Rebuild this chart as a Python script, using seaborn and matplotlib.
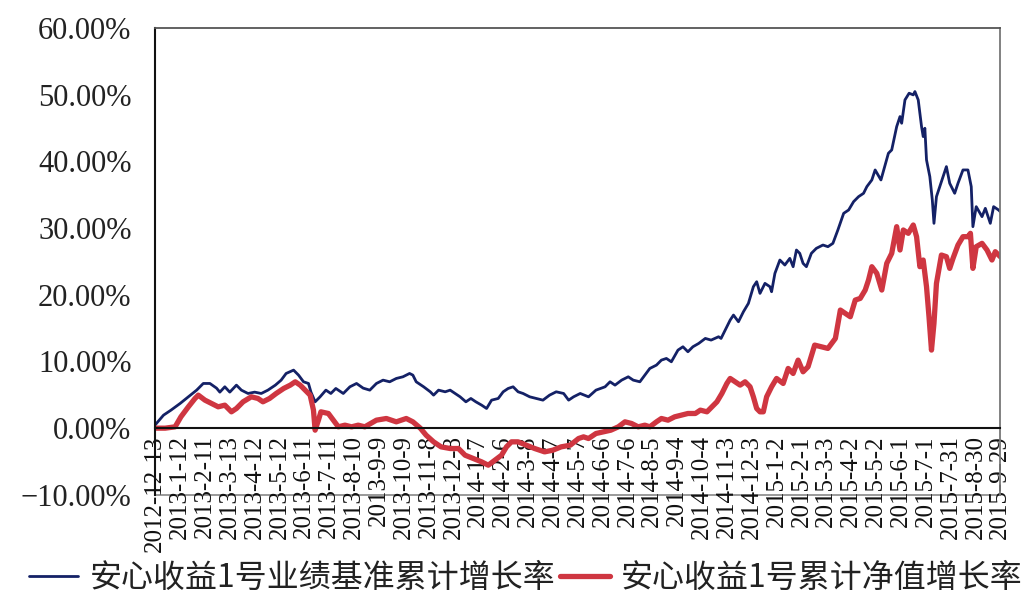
import pandas as pd
import matplotlib
matplotlib.use("Agg")
import matplotlib.pyplot as plt
import matplotlib.ticker as mtick
import seaborn as sns

start_date = "2012-12-13"

# benchmark cumulative growth (%), by day offset from start_date
blue_days = [0, 10, 19, 30, 40, 50, 58, 66, 74, 78,
             84, 90, 98, 104, 112, 120, 128, 136, 145, 152,
             158, 167, 173, 179, 185, 188, 193, 199, 206, 212,
             218, 227, 235, 243, 251, 259, 267, 275, 283, 291,
             299, 307, 311, 315, 324, 332, 336, 342, 350, 356,
             362, 368, 375, 381, 387, 394, 400, 406, 414, 420,
             426, 432, 438, 444, 452, 460, 468, 476, 484, 493,
             499, 505, 513, 523, 532, 543, 549, 555, 563, 571,
             577, 585, 591, 597, 605, 611, 617, 623, 631, 637,
             643, 649, 656, 664, 671, 680, 683, 688, 694, 698,
             704, 710, 716, 722, 726, 730, 736, 742, 744, 748,
             754, 760, 766, 770, 774, 778, 782, 786, 792, 798,
             806, 812, 818, 824, 831, 837, 843, 849, 855, 859,
             865, 869, 876, 885, 889, 895, 899, 901, 905, 910,
             915, 917, 921, 925, 927, 929, 931, 935, 938, 940,
             943, 947, 951, 955, 959, 965, 969, 975, 981, 985,
             987, 991, 998, 1002, 1008, 1012, 1018, 1020]
blue_vals = [0.5, 1.95, 2.7, 3.7, 4.7, 5.7, 6.7, 6.7, 6.0, 5.4,
             6.2, 5.4, 6.45, 5.7, 5.2, 5.4, 5.2, 5.7, 6.45, 7.2,
             8.2, 8.7, 7.95, 6.95, 6.7, 5.4, 3.95, 4.7, 5.7, 5.2,
             5.95, 5.2, 6.2, 6.7, 6.0, 5.7, 6.7, 7.2, 6.95, 7.45,
             7.7, 8.2, 7.95, 6.95, 6.2, 5.45, 4.95, 5.7, 5.45, 5.7,
             5.2, 4.7, 3.95, 4.45, 3.95, 3.45, 2.95, 4.2, 4.45, 5.45,
             5.95, 6.2, 5.45, 5.2, 4.7, 4.45, 4.2, 4.95, 5.45, 5.2,
             4.2, 4.7, 5.2, 4.7, 5.7, 6.2, 6.95, 6.45, 7.2, 7.7,
             7.2, 6.95, 7.95, 8.95, 9.45, 10.2, 10.45, 9.95, 11.7, 12.2,
             11.45, 12.2, 12.7, 13.45, 13.2, 13.7, 13.45, 14.7, 16.2, 16.95,
             15.95, 17.45, 18.7, 21.2, 21.95, 20.2, 21.7, 21.2, 20.45, 23.2,
             25.2, 24.45, 25.45, 24.2, 26.7, 26.2, 24.7, 24.2, 26.2, 26.95,
             27.45, 27.2, 27.7, 29.7, 32.2, 32.7, 33.95, 34.7, 35.2, 36.2,
             37.2, 38.7, 37.2, 41.2, 41.7, 45.2, 46.7, 45.7, 49.2, 50.2,
             49.95, 50.45, 49.2, 45.2, 43.7, 44.95, 40.2, 37.7, 34.2, 30.7,
             34.7, 36.2, 37.7, 39.2, 36.7, 35.2, 36.7, 38.7, 38.7, 36.2,
             30.2, 33.2, 31.7, 32.95, 30.7, 33.2, 32.7, 32.45]

# fund cumulative NAV growth (%)
red_days = [0, 12, 24, 31, 40, 48, 52, 60, 68, 76,
            84, 92, 98, 106, 116, 124, 130, 138, 146, 155,
            163, 169, 175, 181, 187, 191, 193, 197, 200, 209,
            215, 221, 229, 237, 245, 253, 267, 279, 291, 303,
            311, 320, 327, 336, 345, 356, 366, 374, 384, 394,
            402, 410, 418, 424, 430, 438, 448, 458, 470, 480,
            490, 501, 511, 517, 523, 532, 541, 550, 559, 567,
            575, 583, 591, 597, 605, 611, 619, 627, 635, 643,
            652, 658, 666, 672, 678, 684, 690, 694, 700, 706,
            712, 718, 722, 726, 730, 734, 738, 744, 750, 758,
            764, 770, 776, 782, 788, 796, 804, 812, 821, 827,
            833, 839, 845, 851, 857, 861, 865, 871, 877, 883,
            889, 895, 899, 903, 909, 915, 919, 923, 927, 931,
            934, 937, 940, 943, 949, 955, 959, 963, 969, 975,
            981, 984, 987, 991, 998, 1004, 1010, 1014, 1020]
red_vals = [0, 0, 0.2, 1.7, 3.2, 4.45, 4.95, 4.2, 3.7, 3.2,
            3.45, 2.45, 2.95, 3.95, 4.7, 4.45, 3.95, 4.45, 5.2, 5.95,
            6.45, 6.95, 6.45, 5.7, 4.95, 2.7, -0.3, 1.2, 2.45, 2.2,
            1.2, 0.2, 0.45, 0.2, 0.45, 0.2, 1.2, 1.45, 0.95, 1.45,
            0.95, 0.0, -1.05, -2.05, -2.8, -3.05, -3.05, -4.05, -4.55, -5.05,
            -5.55, -4.8, -4.05, -2.8, -2.05, -2.05, -2.55, -3.05, -3.55, -3.3,
            -2.8, -2.55, -1.55, -1.3, -1.55, -0.8, -0.55, -0.3, 0.2, 0.95,
            0.7, 0.2, 0.45, 0.2, 0.95, 1.45, 1.2, 1.7, 1.95, 2.2,
            2.2, 2.7, 2.45, 3.2, 3.95, 5.2, 6.7, 7.45, 6.95, 6.45,
            6.95, 6.2, 4.7, 2.95, 2.45, 2.45, 4.7, 6.2, 7.45, 6.7,
            8.95, 8.2, 10.2, 8.45, 9.2, 12.45, 12.2, 11.95, 13.45, 17.7,
            17.2, 16.7, 19.2, 19.45, 20.7, 22.2, 24.2, 23.2, 20.7, 24.7,
            26.2, 30.2, 26.7, 29.7, 29.2, 30.45, 28.7, 24.2, 25.2, 21.2,
            16.7, 11.7, 15.7, 21.7, 25.95, 25.7, 23.95, 25.45, 27.45, 28.7,
            28.7, 29.2, 23.95, 27.2, 27.7, 26.7, 25.2, 26.45, 25.7]

tick_labels = ['2012-12-13', '2013-1-12', '2013-2-11', '2013-3-13', '2013-4-12',
               '2013-5-12', '2013-6-11', '2013-7-11', '2013-8-10', '2013-9-9',
               '2013-10-9', '2013-11-8', '2013-12-8', '2014-1-7', '2014-2-6',
               '2014-3-8', '2014-4-7', '2014-5-7', '2014-6-6', '2014-7-6',
               '2014-8-5', '2014-9-4', '2014-10-4', '2014-11-3', '2014-12-3',
               '2015-1-2', '2015-2-1', '2015-3-3', '2015-4-2', '2015-5-2',
               '2015-6-1', '2015-7-1', '2015-7-31', '2015-8-30', '2015-9-29']

blue_name = '安心收益1号业绩基准累计增长率'
red_name = '安心收益1号累计净值增长率'

t0 = pd.Timestamp(start_date)
blue_df = pd.DataFrame({'date': t0 + pd.to_timedelta(blue_days, unit='D'),
                        'value': [v / 100 for v in blue_vals]})
red_df = pd.DataFrame({'date': t0 + pd.to_timedelta(red_days, unit='D'),
                       'value': [v / 100 for v in red_vals]})
tick_dates = pd.to_datetime(tick_labels)

sns.set_style('white')
plt.rcParams['font.family'] = ['Liberation Serif', 'Noto Sans CJK SC']

fig, ax = plt.subplots(figsize=(10.28, 6.05), dpi=100)
fig.subplots_adjust(left=0.151, right=0.973, top=0.954, bottom=0.182)

sns.lineplot(data=blue_df, x='date', y='value', color='#142166', lw=2.0,
             label=blue_name, ax=ax)
sns.lineplot(data=red_df, x='date', y='value', color='#cf3641', lw=3.8,
             label=red_name, ax=ax)

# category axis crosses at zero, frame still closes at -10%
# (set this before the ticks: moving a spine rebuilds the tick objects)
ax.spines['bottom'].set_position(('data', 0))
ax.spines['bottom'].set_color('#111111')
ax.spines['bottom'].set_linewidth(1.5)
ax.spines['left'].set_color('#111111')
ax.spines['left'].set_linewidth(1.5)
ax.spines['top'].set_color('#555555')
ax.spines['top'].set_linewidth(1.3)
ax.spines['right'].set_color('#777777')
ax.spines['right'].set_linewidth(1.3)
ax.axhline(-0.10, color='#888888', lw=1.2, clip_on=False, zorder=0)

ax.set_xlim(tick_dates[0], tick_dates[-1])
ax.set_ylim(-0.10, 0.60)
ax.set_xlabel('')
ax.set_ylabel('')

ax.yaxis.set_major_locator(mtick.MultipleLocator(0.10))
ax.yaxis.set_major_formatter(mtick.PercentFormatter(1.0, decimals=2))
ax.tick_params(axis='y', direction='in', length=8, width=1.2, pad=17,
               labelsize=22, colors='#222222')

ax.set_xticks(tick_dates)
ax.set_xticklabels(tick_labels)
ax.tick_params(axis='x', direction='in', length=10, width=1.2, pad=5,
               labelsize=18, labelrotation=90, colors='#111111')

handles, labels = ax.get_legend_handles_labels()
ax.get_legend().remove()
leg = fig.legend(handles, labels, loc='center left', bbox_to_anchor=(0.028, 0.045),
                 ncol=2, frameon=False, handlelength=1.55, handletextpad=0.35,
                 columnspacing=0.15, borderaxespad=0, borderpad=0,
                 prop={'family': ['Noto Sans CJK SC'], 'size': 23})
for t in leg.get_texts():
    t.set_color('#222222')

fig.savefig('out.png', dpi=100)
